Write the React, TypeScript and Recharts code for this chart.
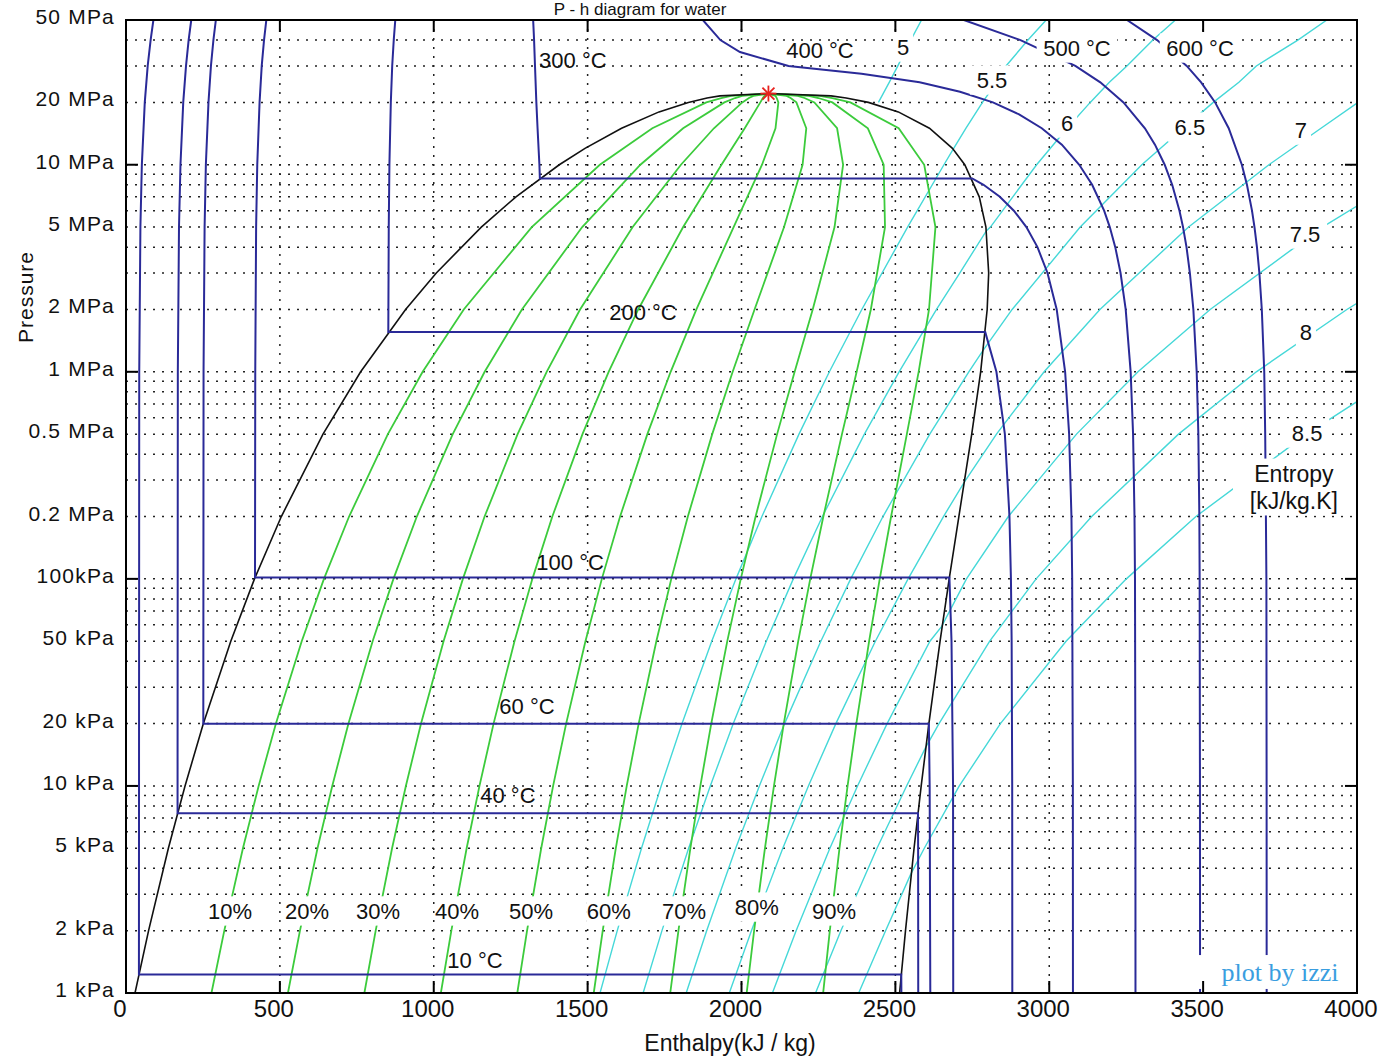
import React from "react";
import {
  ComposedChart,
  Line,
  Scatter,
  XAxis,
  YAxis,
  CartesianGrid,
  ReferenceDot,
} from "recharts";

// pressure in kPa, enthalpy in kJ/kg

// saturation dome
const satP = [1, 2, 5, 10, 20, 50, 100, 200, 500, 1000, 2000, 3000, 5000, 7000, 10000, 12000, 15000, 18000, 20000, 21000, 21500];
const satHf = [29.3, 73.4, 137.7, 191.8, 251.4, 340.5, 417.5, 504.7, 640.1, 762.5, 908.5, 1008.3, 1154.5, 1267.2, 1407.9, 1491.5, 1610.3, 1732.0, 1827.2, 1888, 1930];
const satHg = [2513.7, 2532.9, 2560.7, 2583.9, 2608.9, 2645.2, 2674.9, 2706.3, 2748.1, 2777.1, 2798.3, 2803.2, 2794.2, 2772.6, 2725.5, 2685.4, 2610.7, 2509.5, 2412.3, 2340, 2291];
const criticalPoint = [{ h: 2087.5, p: 22064 }];

// constant quality lines (10% ... 90%)
const qualityP = [1, 2, 5, 10, 20, 50, 100, 200, 500, 1000, 2000, 5000, 10000, 15000, 20000, 21000, 21500, 22064];
const quality10 = [277.7, 319.4, 380.0, 431.0, 487.2, 571.0, 643.2, 724.9, 850.9, 964.0, 1097.5, 1318.5, 1539.7, 1710.3, 1885.7, 1934.1, 1966.1, 2087.5];
const quality20 = [526.2, 565.3, 622.3, 670.2, 722.9, 801.4, 869.0, 945.0, 1061.7, 1165.4, 1286.5, 1482.4, 1671.4, 1810.4, 1944.2, 1979.2, 2002.2, 2087.5];
const quality30 = [774.6, 811.3, 864.6, 909.4, 958.7, 1031.9, 1094.7, 1165.2, 1272.5, 1366.9, 1475.4, 1646.4, 1803.2, 1910.4, 2002.7, 2024.3, 2038.3, 2087.5];
const quality40 = [1023.1, 1057.2, 1106.9, 1148.6, 1194.4, 1262.4, 1320.5, 1385.3, 1483.3, 1568.3, 1664.4, 1810.4, 1934.9, 2010.5, 2061.2, 2069.4, 2074.4, 2087.5];
const quality50 = [1271.5, 1303.2, 1349.2, 1387.9, 1430.2, 1492.9, 1546.2, 1605.5, 1694.1, 1769.8, 1853.4, 1974.4, 2066.7, 2110.5, 2119.8, 2114.5, 2110.5, 2087.5];
const quality60 = [1519.9, 1549.1, 1591.5, 1627.1, 1665.9, 1723.3, 1771.9, 1825.7, 1904.9, 1971.3, 2042.4, 2138.3, 2198.5, 2210.5, 2178.3, 2159.6, 2146.6, 2087.5];
const quality70 = [1768.4, 1795.1, 1833.8, 1866.3, 1901.7, 1953.8, 1997.7, 2045.8, 2115.7, 2172.7, 2231.4, 2302.3, 2330.2, 2310.6, 2236.8, 2204.7, 2182.7, 2087.5];
const quality80 = [2016.8, 2041.0, 2076.1, 2105.5, 2137.4, 2184.3, 2223.4, 2266.0, 2326.5, 2374.2, 2420.3, 2466.3, 2462.0, 2410.6, 2295.3, 2249.8, 2218.8, 2087.5];
const quality90 = [2265.3, 2287.0, 2318.4, 2344.7, 2373.2, 2414.7, 2449.2, 2486.1, 2537.3, 2575.6, 2609.3, 2630.2, 2593.7, 2510.7, 2353.8, 2294.9, 2254.9, 2087.5];

// isotherms
const iso10P = [50000, 40000, 30000, 20000, 10000, 5000, 1000, 1.228, 1.228, 1];
const iso10H = [89, 80, 70.5, 61, 51.5, 46.8, 43, 42.0, 2519.2, 2519.5];
const iso40P = [50000, 40000, 30000, 20000, 10000, 5000, 1000, 7.384, 7.384, 5, 1];
const iso40H = [212, 203.5, 195, 186, 177, 172.2, 168.4, 167.5, 2573.5, 2573.9, 2574.3];
const iso60P = [50000, 40000, 30000, 20000, 10000, 5000, 1000, 19.946, 19.946, 10, 1];
const iso60H = [292, 284, 276, 268, 259.5, 255.4, 252, 251.2, 2608.8, 2611.4, 2613.5];
const iso100P = [50000, 40000, 30000, 20000, 10000, 5000, 1000, 101.42, 101.42, 50, 10, 1];
const iso100H = [456, 448.5, 441, 434, 426.5, 422.8, 420, 419.2, 2675.6, 2682.4, 2687.4, 2688.0];
const iso200P = [50000, 40000, 30000, 20000, 10000, 5000, 1554.9, 1554.9, 1000, 500, 200, 100, 50, 10, 1];
const iso200H = [875, 870, 865, 860.5, 855.9, 853.8, 852.3, 2792.0, 2828.3, 2855.8, 2870.7, 2875.5, 2877.8, 2879.6, 2880.0];
const iso300P = [50000, 40000, 30000, 20000, 15000, 10000, 8587.9, 8587.9, 8000, 7000, 6000, 5000, 4000, 3000, 2000, 1000, 500, 200, 100, 10, 1];
const iso300H = [1323, 1326, 1329, 1333.4, 1337.3, 1343.3, 1344.8, 2749.6, 2786.5, 2839.4, 2885.0, 2925.7, 2961.7, 2994.3, 3024.2, 3051.6, 3064.6, 3072.1, 3074.5, 3076.7, 3077.0];
const iso400P = [50000, 40000, 35000, 30000, 27500, 25000, 22500, 20000, 17500, 15000, 12500, 10000, 8000, 6000, 5000, 4000, 3000, 2000, 1000, 500, 200, 100, 10, 1];
const iso400H = [1874.4, 1931.4, 1995, 2152.8, 2390, 2578.7, 2710, 2816.9, 2902, 2975.7, 3041, 3097.5, 3139.4, 3178.3, 3196.7, 3214.5, 3231.7, 3248.4, 3264.5, 3272.4, 3277.0, 3278.6, 3280.0, 3280.2];
const iso500P = [50000, 40000, 30000, 25000, 20000, 15000, 12500, 10000, 8000, 6000, 5000, 4000, 3000, 2000, 1000, 500, 200, 100, 10, 1];
const iso500H = [2722.5, 2906.5, 3084.8, 3165.9, 3241.2, 3310.8, 3343.5, 3375.1, 3399.5, 3423.1, 3434.7, 3446.0, 3457.0, 3468.3, 3479.1, 3484.5, 3487.7, 3488.7, 3489.7, 3490.0];
const iso600P = [50000, 40000, 30000, 25000, 20000, 15000, 10000, 8000, 6000, 5000, 4000, 3000, 2000, 1000, 500, 200, 100, 10, 1];
const iso600H = [3252.6, 3350.4, 3446.7, 3493.5, 3539.0, 3583.1, 3625.8, 3642.4, 3658.8, 3666.9, 3674.9, 3682.8, 3690.7, 3698.6, 3701.7, 3704.0, 3705.6, 3706.3, 3706.5];

// isentropes, kJ/kg.K
const s50P = [50000, 40000, 30000, 25000, 20000];
const s50H = [2585, 2550, 2508, 2480, 2445];
const s55P = [1, 2, 5, 10, 20, 50, 100, 200, 500, 1000, 2000, 5000, 10000, 11900, 15000, 20000, 25000, 30000, 40000, 50000];
const s55H = [1540.3, 1596.3, 1675.1, 1739.0, 1806.8, 1903.3, 1982.1, 2066.3, 2186.8, 2285.5, 2390.9, 2539.7, 2657.8, 2688, 2729, 2783, 2828.6, 2859.5, 2930.8, 2990];
const s60P = [1, 2, 5, 10, 20, 50, 100, 200, 500, 1000, 2000, 3000, 4800, 5000, 10000, 15000, 20000, 25000, 30000, 40000, 50000];
const s60H = [1680.4, 1741.6, 1828.2, 1898.6, 1973.3, 2080.5, 2168.3, 2262.9, 2399.3, 2512.1, 2633.7, 2709.1, 2796, 2808.8, 2958.9, 3058.0, 3133.2, 3195.3, 3252.3, 3336.7, 3410];
const s65P = [1, 2, 5, 10, 20, 50, 100, 200, 500, 1000, 1270, 2000, 5000, 10000, 15000, 20000, 25000, 30000, 40000, 50000];
const s65H = [1820.3, 1886.8, 1981.1, 2058.0, 2140.0, 2257.8, 2354.8, 2459.7, 2611.8, 2738.6, 2785, 2879.4, 3100.6, 3300.8, 3435.6, 3532.9, 3616.2, 3672.9, 3807.7, 3902];
const s70P = [1, 2, 5, 10, 20, 50, 100, 200, 293, 500, 1000, 2000, 5000, 10000, 15000, 20000];
const s70H = [1960.4, 2032.2, 2134.2, 2217.4, 2306.6, 2435.0, 2541.3, 2656.3, 2724, 2828.5, 2983.3, 3164.7, 3452.7, 3713.9, 3883, 4003];
const s75P = [1, 2, 5, 10, 20, 50, 58.8, 100, 200, 500, 1000, 2000, 5000, 7000];
const s75H = [2100.5, 2177.5, 2287.2, 2377.0, 2473.1, 2612.3, 2650, 2731.0, 2867, 3088.6, 3288.3, 3522.8, 3887.6, 4049];
const s80P = [1, 2, 5, 10, 15.3, 20, 50, 100, 200, 500, 1000, 2000, 2500];
const s80H = [2240.6, 2322.9, 2440.2, 2536.5, 2598, 2641.8, 2806.5, 2957.3, 3137.9, 3420.0, 3673.0, 3967, 4073];
const s85P = [1, 2, 3.75, 5, 10, 20, 50, 100, 200, 500, 800];
const s85H = [2380.8, 2468.2, 2550, 2594, 2707.7, 2841.3, 3054.6, 3250.5, 3476.6, 3836.2, 4049];

// axes
const hTicks = [0, 500, 1000, 1500, 2000, 2500, 3000, 3500, 4000];
const pGrid = [1, 10, 100, 1000]
  .flatMap((d) => [1, 2, 3, 4, 5, 6, 7, 8, 9].map((m) => m * d))
  .concat([10000, 20000, 30000, 40000, 50000]);
const pLabelValues = [1, 2, 5, 10, 20, 50, 100, 200, 500, 1000, 2000, 5000, 10000, 20000, 50000];
const pLabelTexts = ["1 kPa", "2 kPa", "5 kPa", "10 kPa", "20 kPa", "50 kPa", "100kPa", "0.2 MPa", "0.5 MPa", "1 MPa", "2 MPa", "5 MPa", "10 MPa", "20 MPa", "50 MPa"];
const pDecades = [1, 10, 100, 1000, 10000];

// text placed on the chart (h, p = anchor in data units)
const curveLabels = [
  { h: 1452, p: 32000, text: "300 °C", box: false },
  { h: 2255, p: 35800, text: "400 °C", box: false },
  { h: 3090, p: 36600, text: "500 °C", box: true },
  { h: 3490, p: 36600, text: "600 °C", box: true },
  { h: 1680, p: 1945, text: "200 °C", box: false },
  { h: 1443, p: 120.6, text: "100 °C", box: false },
  { h: 1303, p: 24.3, text: "60 °C", box: false },
  { h: 1241, p: 9.04, text: "40 °C", box: false },
  { h: 1134, p: 1.443, text: "10 °C", box: false },
  { h: 2525, p: 37000, text: "5", box: true },
  { h: 2814, p: 25650, text: "5.5", box: true },
  { h: 3058, p: 15900, text: "6", box: true },
  { h: 3457, p: 15200, text: "6.5", box: true },
  { h: 3818, p: 14700, text: "7", box: true },
  { h: 3831, p: 4630, text: "7.5", box: true },
  { h: 3834, p: 1556, text: "8", box: true },
  { h: 3838, p: 506, text: "8.5", box: true },
];
const qualityLabelH = [338, 588, 819, 1076, 1316, 1569, 1813, 2050, 2301];
const qualityLabelP = [2.49, 2.49, 2.49, 2.49, 2.49, 2.49, 2.49, 2.6, 2.49];
const qualityLabelTexts = ["10%", "20%", "30%", "40%", "50%", "60%", "70%", "80%", "90%"];

const pts = (hs: number[], ps: number[]) => hs.map((h, i) => ({ h, p: ps[i] }));

const domeData = [...pts(satHf, satP), ...criticalPoint, ...pts(satHg, satP).reverse()];
const qualityLines = [quality10, quality20, quality30, quality40, quality50, quality60, quality70, quality80, quality90].map((q) => pts(q, qualityP));
const isotherms = [
  pts(iso10H, iso10P), pts(iso40H, iso40P), pts(iso60H, iso60P), pts(iso100H, iso100P), pts(iso200H, iso200P),
  pts(iso300H, iso300P), pts(iso400H, iso400P), pts(iso500H, iso500P), pts(iso600H, iso600P),
];
const isentropes = [
  pts(s50H, s50P), pts(s55H, s55P), pts(s60H, s60P), pts(s65H, s65P),
  pts(s70H, s70P), pts(s75H, s75P), pts(s80H, s80P), pts(s85H, s85P),
];

const BLUE = "#2a2a98";
const GREEN = "#3ccb3c";
const CYAN = "#45d8d8";
const SANS = "'Liberation Sans', Arial, sans-serif";

const PLOT = { left: 126, right: 1357, top: 20, bottom: 993 };

const XTick = ({ x, payload }: any) => (
  <g>
    <line x1={x} x2={x} y1={PLOT.bottom} y2={PLOT.bottom - 12} stroke="#000" strokeWidth={2} />
    <line x1={x} x2={x} y1={PLOT.top} y2={PLOT.top + 12} stroke="#000" strokeWidth={2} />
    <text x={x - 6} y={1017} textAnchor="middle" fontSize={24} fill="#111" fontFamily={SANS}>
      {payload.value}
    </text>
  </g>
);

const YTick = ({ y, payload }: any) => {
  const i = pLabelValues.indexOf(payload.value);
  const decade = pDecades.includes(payload.value);
  return (
    <g>
      {decade && <line x1={PLOT.left} x2={PLOT.left + 12} y1={y} y2={y} stroke="#000" strokeWidth={2} />}
      {decade && <line x1={PLOT.right} x2={PLOT.right - 12} y1={y} y2={y} stroke="#000" strokeWidth={2} />}
      {i >= 0 && (
        <text x={115} y={y + 4} textAnchor="end" fontSize={21} letterSpacing={1.2} fill="#111" fontFamily={SANS}>
          {pLabelTexts[i]}
        </text>
      )}
    </g>
  );
};

const Asterisk = ({ cx, cy }: any) => (
  <g stroke="#e8211e" strokeWidth={1.8}>
    <line x1={cx - 8} x2={cx + 8} y1={cy} y2={cy} />
    <line x1={cx} x2={cx} y1={cy - 8} y2={cy + 8} />
    <line x1={cx - 6} x2={cx + 6} y1={cy - 6} y2={cy + 6} />
    <line x1={cx - 6} x2={cx + 6} y1={cy + 6} y2={cy - 6} />
  </g>
);

const makeTag = (text: string, box: boolean, opts: any = {}) => (props: any) => {
  const { cx, cy } = props;
  const size = opts.size || 22;
  const lines = text.split("\n");
  const w = Math.max(...lines.map((l) => l.length)) * size * 0.55 + 8;
  const h = lines.length * size * 1.15 + 4;
  return (
    <g>
      {box && <rect x={cx - w / 2} y={cy - h / 2} width={w} height={h} fill="#fff" />}
      <text
        x={cx}
        y={cy - ((lines.length - 1) * size * 1.15) / 2}
        dy="0.36em"
        textAnchor="middle"
        fontSize={size}
        fill={opts.color || "#111"}
        fontFamily={opts.family || SANS}
      >
        {lines.map((l, k) => (
          <tspan key={k} x={cx} dy={k === 0 ? "0.36em" : size * 1.15}>
            {l}
          </tspan>
        ))}
      </text>
    </g>
  );
};

export default function App() {
  return (
    <div style={{ position: "absolute", left: 0, top: 0, width: 1383, height: 1060, background: "#fff", overflow: "hidden" }}>
      <ComposedChart width={1383} height={1060} margin={{ top: 20, right: 26, bottom: 0, left: 0 }}>
        <CartesianGrid stroke="#222" strokeDasharray="2 7" strokeWidth={1.5} />
        <XAxis
          type="number"
          dataKey="h"
          domain={[0, 4000]}
          ticks={hTicks}
          interval={0}
          allowDataOverflow
          height={67}
          axisLine={false}
          tickLine={false}
          tick={<XTick />}
        />
        <YAxis
          type="number"
          dataKey="p"
          scale="log"
          domain={[1, 50000]}
          ticks={pGrid}
          interval={0}
          allowDataOverflow
          width={126}
          axisLine={false}
          tickLine={false}
          tick={<YTick />}
        />
        {isentropes.map((d, i) => (
          <Line key={"s" + i} data={d} dataKey="p" type="linear" stroke={CYAN} strokeWidth={1.4} dot={false} activeDot={false} isAnimationActive={false} />
        ))}
        {qualityLines.map((d, i) => (
          <Line key={"q" + i} data={d} dataKey="p" type="linear" stroke={GREEN} strokeWidth={1.8} dot={false} activeDot={false} isAnimationActive={false} />
        ))}
        <Line data={domeData} dataKey="p" type="linear" stroke="#111" strokeWidth={1.6} dot={false} activeDot={false} isAnimationActive={false} />
        {isotherms.map((d, i) => (
          <Line key={"t" + i} data={d} dataKey="p" type="linear" stroke={BLUE} strokeWidth={2} dot={false} activeDot={false} isAnimationActive={false} />
        ))}
        <Scatter data={criticalPoint} dataKey="p" shape={<Asterisk />} isAnimationActive={false} />
        {curveLabels.map((a) => (
          <ReferenceDot key={a.text} x={a.h} y={a.p} r={0} shape={makeTag(a.text, a.box)} />
        ))}
        {qualityLabelTexts.map((t, i) => (
          <ReferenceDot key={t} x={qualityLabelH[i]} y={qualityLabelP[i]} r={0} shape={makeTag(t, true)} />
        ))}
        <ReferenceDot x={3795} y={277.7} r={0} shape={makeTag("Entropy\n[kJ/kg.K]", true, { size: 23 })} />
        <ReferenceDot
          x={3750}
          y={1.263}
          r={0}
          shape={makeTag("plot by izzi", true, { size: 26, color: "#3a9ee0", family: "'Liberation Serif', 'Times New Roman', serif" })}
        />
      </ComposedChart>
      <svg width={1383} height={1060} style={{ position: "absolute", left: 0, top: 0, pointerEvents: "none" }}>
        <rect
          x={PLOT.left}
          y={PLOT.top}
          width={PLOT.right - PLOT.left}
          height={PLOT.bottom - PLOT.top}
          fill="none"
          stroke="#000"
          strokeWidth={2}
        />
        <text x={640} y={15} textAnchor="middle" fontSize={17} fill="#111" fontFamily={SANS}>
          P - h diagram for water
        </text>
        <text x={730} y={1051} textAnchor="middle" fontSize={23} fill="#111" fontFamily={SANS}>
          Enthalpy(kJ / kg)
        </text>
        <text
          x={25}
          y={297}
          transform="rotate(-90 25 297)"
          textAnchor="middle"
          dy="0.36em"
          fontSize={21}
          letterSpacing={1}
          fill="#111"
          fontFamily={SANS}
        >
          Pressure
        </text>
      </svg>
    </div>
  );
}
